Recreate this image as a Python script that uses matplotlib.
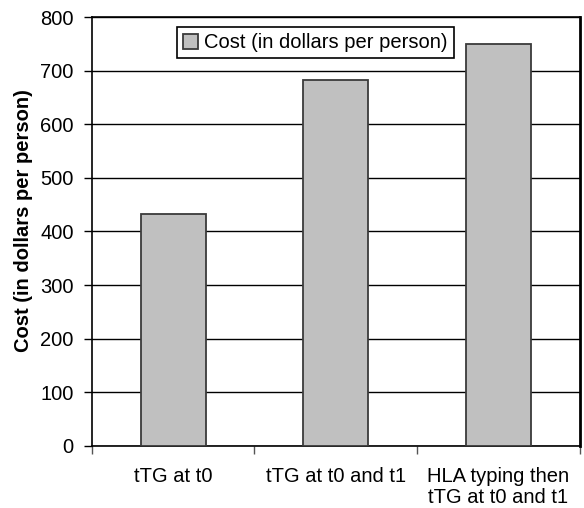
import matplotlib
matplotlib.use("Agg")
import matplotlib.pyplot as plt
from matplotlib.ticker import FixedLocator

categories = ["tTG at t0", "tTG at t0 and t1", "HLA typing then\ntTG at t0 and t1"]
costs = [433, 683, 750]
yticks = [0, 100, 200, 300, 400, 500, 600, 700, 800]
series_name = "Cost (in dollars per person)"

plt.rcParams["font.family"] = ["Liberation Sans", "DejaVu Sans"]
FS = 14.5

fig = plt.figure(figsize=(5.84, 5.08), dpi=100)
ax = fig.add_axes([0.157, 0.1226, 0.836, 0.8434])

x = list(range(len(categories)))
ax.bar(x, costs, width=0.4, color="#c0c0c0", edgecolor="#3a3a3a",
       linewidth=1.3, label=series_name, zorder=3)

ax.set_xlim(-0.5, len(categories) - 0.5)
ax.set_ylim(0, 800)
ax.set_yticks(yticks)
ax.yaxis.grid(True, color="black", linewidth=1.0, zorder=0)
ax.set_axisbelow(True)

ax.set_xticks(x)
ax.set_xticklabels(categories, fontsize=FS, linespacing=1.15)
ax.xaxis.set_minor_locator(FixedLocator([-0.5, 0.5, 1.5, 2.5]))
ax.tick_params(axis="x", which="major", length=0, pad=15)
ax.tick_params(axis="x", which="minor", length=6, width=1, direction="out", color="#555555")
ax.tick_params(axis="y", length=6, width=1, direction="out", labelsize=FS, pad=7)

for side in ["left", "bottom", "top", "right"]:
    ax.spines[side].set_color("black")
    ax.spines[side].set_linewidth(1.2)
ax.spines["right"].set_linewidth(2)

ax.set_ylabel("Cost (in dollars per person)", fontsize=FS, fontweight="bold")
ax.yaxis.set_label_coords(-0.12, 0.526)

leg = ax.legend(loc="upper left", bbox_to_anchor=(0.175, 0.977), borderaxespad=0,
                fontsize=FS, frameon=True, fancybox=False, edgecolor="black",
                handlelength=0.75, handleheight=0.75, handletextpad=0.3,
                borderpad=0.3)
leg.get_frame().set_linewidth(1.2)
leg.get_frame().set_alpha(1)

fig.savefig("out.png", dpi=100)
